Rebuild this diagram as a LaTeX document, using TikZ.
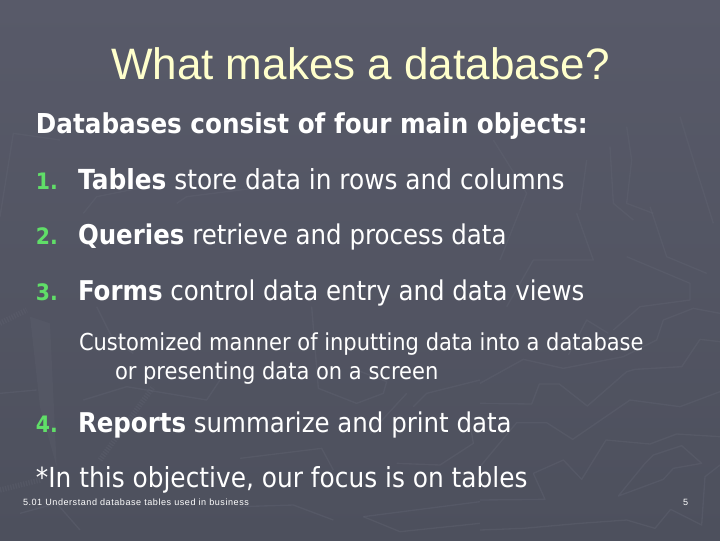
\documentclass[tikz,border=0pt]{standalone}
\usepackage{fontspec}
\setmainfont[FakeStretch=0.9]{DejaVu Sans}
\newfontfamily\arialf{Liberation Sans}
\newfontfamily\footf[LetterSpace=6]{Liberation Sans}
\definecolor{bgtop}{RGB}{88,90,105}
\definecolor{bgbot}{RGB}{77,80,93}
\definecolor{texc}{RGB}{97,100,114}
\definecolor{titlec}{RGB}{255,255,204}
\definecolor{numc}{RGB}{96,222,104}
\tikzset{
 px/.style={x=0.75pt,y=-0.75pt},
 zoomed/.style={x=0.25pt,y=-0.25pt,shift={#1}},
 texline/.style={draw=texc,line width=1pt,line join=round,opacity=0.4},
 texband/.style={draw=texc,line width=4pt,dash pattern=on 1pt off 1pt,opacity=0.35},
 lab/.style={anchor=base west,inner sep=0pt,outer sep=0pt,text=white},
 bodytext/.style={lab,font=\fontsize{20.7}{24}\selectfont},
 tighttext/.style={lab,font=\fontsize{20.4}{24}\selectfont},
 numtext/.style={lab,text=numc,font=\bfseries\fontsize{17}{20}\selectfont},
 subtext/.style={lab,font=\fontsize{17.5}{21}\selectfont},
 foottext/.style={lab,font=\footf\fontsize{6.8}{8}\selectfont},
}
\begin{document}
\begin{tikzpicture}[px]
\useasboundingbox (0,0) rectangle (720,540);
\fill[top color=bgtop,bottom color=bgbot] (0,0) rectangle (720,540);
% faint background texture, upper right
\begin{scope}[zoomed={(270pt,-45pt)}]
\draw[texline] (800,200)--(815,300)--(800,430)--(880,460);
\draw[texline] (750,260)--(760,430)--(820,480);
\draw[texline] (960,170)--(1000,300)--(1060,490);
\draw[texline] (870,440)--(920,590)--(1040,640);
\draw[texline] (650,460)--(700,600)--(520,600)--(440,740);
\draw[texline] (680,300)--(660,450);
\draw[texline] (800,590)--(990,670)--(990,720)--(840,740)--(760,810);
\draw[texline] (400,240)--(500,400)--(420,600);
\end{scope}
% upper left
\begin{scope}[zoomed={(0pt,0pt)}]
\draw[texline] (0,650)--(40,400)--(180,420);
\draw[texline] (250,640)--(290,590)--(440,560);
\draw[texline] (530,610)--(560,590)--(800,560);
\end{scope}
% lower right
\begin{scope}[zoomed={(360pt,-225pt)}]
\draw[texline] (0,310)--(155,312)--(178,252)--(238,252)--(322,318)--(440,215)--(465,208)--(605,200)--(660,118)--(720,125);
\draw[texline] (0,500)--(110,368)--(200,368)--(278,418)--(450,300)--(600,320)--(720,275);
\draw[texline] (160,520)--(250,480)--(305,538)--(378,420)--(510,432)--(590,402)--(720,410);
\draw[texline] (0,600)--(195,598)--(160,520);
\draw[texline] (415,588)--(550,538)--(580,505)--(665,490)--(605,437)--(520,465)--(495,490)--cycle;
\draw[texline] (0,690)--(130,685)--(300,670)--(440,660)--(525,685)--(572,628)--(665,675)--(675,530)--(720,495);
\draw[texline] (0,250)--(130,178)--(250,205)--(430,170)--(530,120)--(550,60)--(640,25)--(720,40);
\draw[texline] (385,100)--(320,60)--(265,165);
\end{scope}
% lower middle
\begin{scope}[zoomed={(180pt,-225pt)}]
\draw[texline] (0,475)--(245,445)--(280,510);
\draw[texline] (370,650)--(480,695)--(720,670);
\draw[texline] (370,650)--(720,605);
\draw[texline] (215,20)--(235,265)--(350,310)--(430,280)--(440,245)--(350,210);
\draw[texline] (500,280)--(390,400);
\draw[texline] (520,320)--(560,280)--(720,240);
\draw[texline] (470,490)--(600,495)--(700,430)--(690,370);
\draw[texline] (0,620)--(160,615)--(280,660);
\end{scope}
% lower left
\begin{scope}[zoomed={(0pt,-225pt)}]
\fill[texc,opacity=0.25] (90,50)--(150,70)--(170,500)--(120,320)--cycle;
\draw[texband] (0,70)--(80,30);
\draw[texband] (300,480)--(460,260);
\draw[texband] (0,570)--(120,540);
\draw[texline] (0,280)--(110,270);
\draw[texline] (290,20)--(340,120)--(400,160);
\draw[texline] (250,300)--(380,260)--(620,300)--(660,240);
\draw[texline] (60,640)--(170,610)--(240,690);
\end{scope}
\node[lab,text=titlec,font=\arialf\fontsize{33}{33}\selectfont] (title) at (111,79) {What makes a database?};
\node[bodytext,font=\bfseries\fontsize{20.55}{24}\selectfont] (head) at (36,133) {Databases consist of four main objects:};
\node[numtext] (n1) at (36,189) {1.};
\node[bodytext] (t1) at (78,189) {\textbf{Tables} store data in rows and columns};
\node[numtext] (n2) at (36,244) {2.};
\node[tighttext] (t2) at (78,244) {\textbf{Queries} retrieve and process data};
\node[numtext] (n3) at (36,300) {3.};
\node[tighttext] (t3) at (78,300) {\textbf{Forms} control data entry and data views};
\node[subtext] (s1) at (79,350) {Customized manner of inputting data into a database};
\node[subtext] (s2) at (115,379) {or presenting data on a screen};
\node[numtext] (n4) at (36,432) {4.};
\node[tighttext] (t4) at (78,432) {\textbf{Reports} summarize and print data};
\node[bodytext] (t5) at (36,487) {*In this objective, our focus is on tables};
\node[foottext] (foot) at (23,505) {5.01 Understand database tables used in business};
\node[foottext] (pg) at (683,505) {5};
\end{tikzpicture}
\end{document}
